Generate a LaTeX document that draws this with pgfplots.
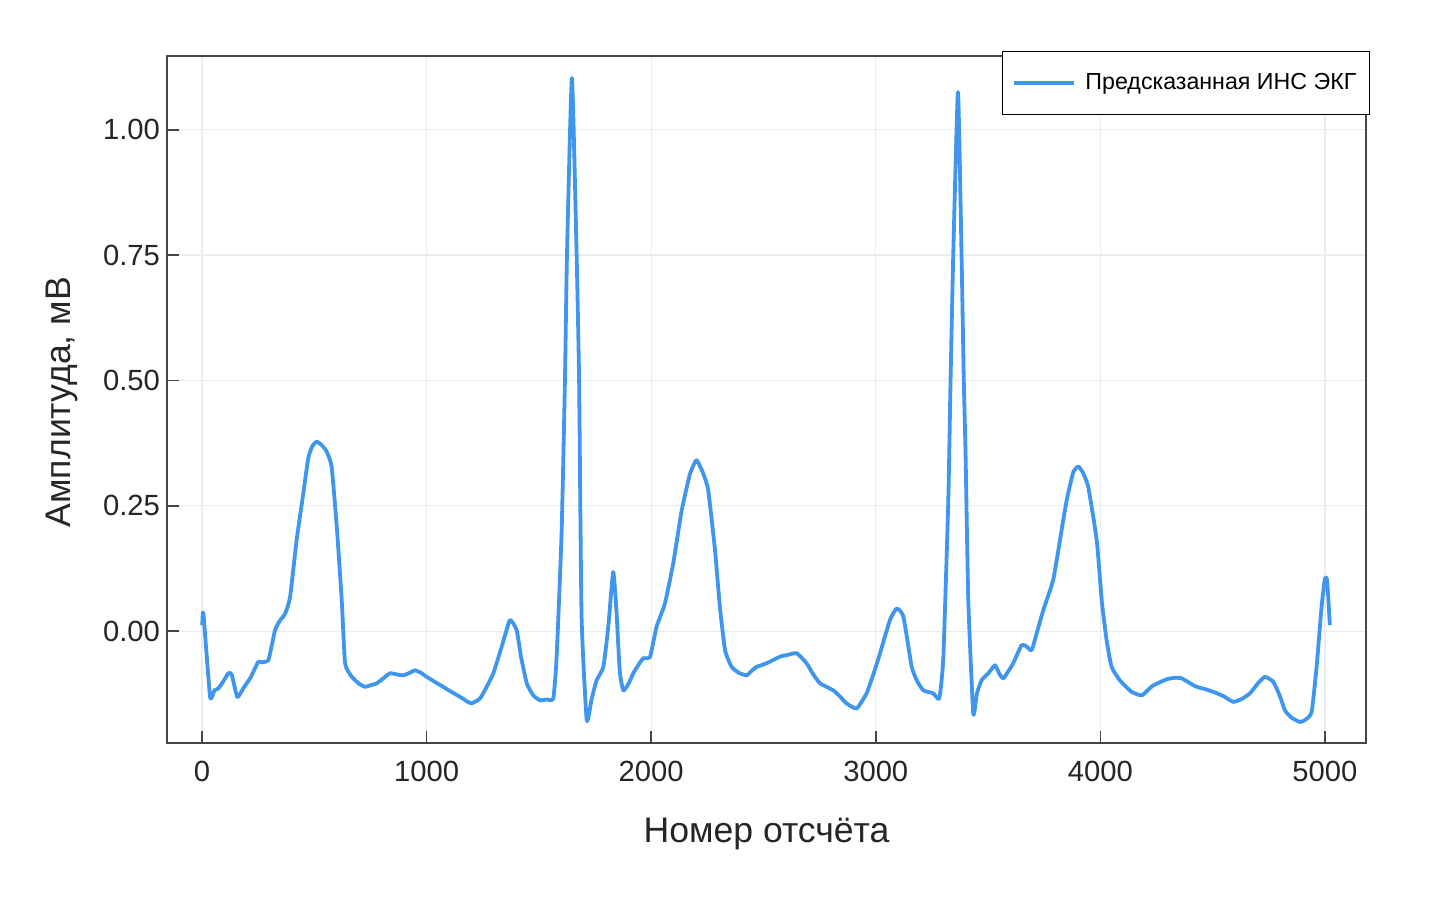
\documentclass[border=0pt]{standalone}
\usepackage{pgfplots}
\pgfplotsset{compat=1.18}
\usepackage{fontspec}
\setmainfont{Liberation Sans}
\definecolor{ecg}{RGB}{62,150,238}
\definecolor{gridc}{RGB}{236,236,236}
\definecolor{framec}{RGB}{70,70,70}
\begin{document}
\begin{tikzpicture}
\useasboundingbox (0,0) rectangle (721pt,451pt);
\begin{axis}[
  at={(83.5pt,79.5pt)}, anchor=south west,
  scale only axis, width=599.5pt, height=343.5pt,
  xmin=-156, xmax=5183, ymin=-0.223, ymax=1.147,
  xtick={0,1000,2000,3000,4000,5000},
  ytick={0,0.25,0.5,0.75,1.0},
  yticklabel style={/pgf/number format/.cd,fixed,fixed zerofill,precision=2},
  /pgf/number format/assume math mode=true,
  scaled x ticks=false,
  xticklabel style={/pgf/number format/1000 sep={}},
  tick label style={font=\fontsize{14.6}{17}\selectfont, text=black!85},
  xticklabel shift=5.5pt,
  yticklabel shift=0pt,
  tick align=inside, major tick length=6pt,
  tick style={framec, line width=0.8pt},
  xtick pos=bottom, ytick pos=left,
  grid=major, major grid style={gridc, line width=0.6pt},
  axis line style={framec, line width=1.2pt},
  xlabel={Номер отсчёта}, ylabel={Амплитуда, мВ},
  label style={font=\fontsize{17.8}{20}\selectfont, text=black!85},
  xlabel style={at={(axis description cs:0.5,-0.132)}, anchor=center},
  ylabel style={at={(axis description cs:-0.0876,0.496)}, anchor=center, rotate=0},
  legend style={at={(axis description cs:1.0033,1.0073)}, anchor=north east,
    draw=black, line width=0.6pt, font=\fontsize{11.6}{13}\selectfont,
    inner xsep=4.5pt, inner ysep=9pt, legend cell align=left},
  legend image code/.code={\draw[#1, line width=1.9pt] (0pt,0pt) -- (30pt,0pt); \path (33pt,0pt);},
]
\addplot[ecg, line width=1.9pt, line join=round, smooth, tension=0.3] coordinates {
(1,0.012) (6,0.035) (36,-0.131) (55,-0.118) (73,-0.114) (95,-0.100) (117,-0.084) (132,-0.086)
(157,-0.131) (185,-0.113) (214,-0.094) (235,-0.075) (251,-0.061) (270,-0.062) (295,-0.058)
(310,-0.030) (325,0.002) (345,0.020) (370,0.035) (392,0.068) (421,0.181) (451,0.275)
(473,0.345) (490,0.368) (511,0.378) (535,0.370) (555,0.358) (577,0.328) (600,0.208)
(622,0.062) (637,-0.064) (667,-0.091) (700,-0.105) (726,-0.111) (750,-0.108) (778,-0.104)
(810,-0.093) (837,-0.084) (865,-0.086) (896,-0.088) (925,-0.083) (948,-0.078) (975,-0.083)
(1000,-0.091) (1040,-0.102) (1074,-0.111) (1110,-0.121) (1149,-0.131) (1180,-0.140)
(1201,-0.144) (1238,-0.134) (1265,-0.113) (1297,-0.084) (1335,-0.030) (1371,0.022)
(1401,0.002) (1420,-0.050) (1446,-0.104) (1475,-0.128) (1505,-0.138) (1535,-0.136)
(1564,-0.134) (1579,-0.051) (1601,0.195) (1616,0.50) (1625,0.75) (1647,1.103) (1668,0.75)
(1679,0.50) (1690,0.029) (1713,-0.177) (1735,-0.135) (1757,-0.098) (1787,-0.071)
(1809,0.009) (1831,0.118) (1846,0.035) (1860,-0.080) (1876,-0.118) (1900,-0.104)
(1920,-0.084) (1945,-0.066) (1965,-0.054) (1995,-0.051) (2024,0.009) (2061,0.055)
(2098,0.135) (2136,0.241) (2173,0.314) (2202,0.341) (2232,0.314) (2254,0.281) (2284,0.162)
(2306,0.048) (2329,-0.038) (2358,-0.071) (2390,-0.083) (2425,-0.088) (2450,-0.078)
(2470,-0.071) (2514,-0.064) (2573,-0.051) (2610,-0.047) (2648,-0.044) (2692,-0.064)
(2720,-0.085) (2752,-0.104) (2811,-0.118) (2840,-0.130) (2870,-0.144) (2915,-0.154)
(2959,-0.124) (2990,-0.085) (3019,-0.044) (3063,0.022) (3093,0.045) (3123,0.029)
(3160,-0.071) (3185,-0.100) (3212,-0.118) (3256,-0.124) (3283,-0.134) (3301,-0.051)
(3323,0.261) (3333,0.50) (3345,0.75) (3366,1.075) (3382,0.75) (3392,0.50) (3400,0.35)
(3412,0.062) (3434,-0.164) (3450,-0.125) (3471,-0.098) (3501,-0.084) (3531,-0.068)
(3550,-0.085) (3568,-0.094) (3590,-0.080) (3612,-0.064) (3649,-0.028) (3670,-0.030)
(3694,-0.038) (3716,-0.005) (3746,0.042) (3790,0.102) (3820,0.181) (3850,0.261)
(3880,0.318) (3902,0.328) (3920,0.318) (3946,0.288) (3984,0.181) (4006,0.062)
(4028,-0.018) (4050,-0.071) (4087,-0.098) (4139,-0.121) (4184,-0.128) (4210,-0.118)
(4236,-0.108) (4295,-0.096) (4330,-0.093) (4362,-0.094) (4400,-0.104) (4429,-0.111)
(4470,-0.116) (4503,-0.121) (4550,-0.130) (4592,-0.141) (4630,-0.135) (4666,-0.124)
(4700,-0.105) (4733,-0.091) (4770,-0.101) (4800,-0.130) (4822,-0.158) (4850,-0.172)
(4889,-0.181) (4915,-0.176) (4941,-0.161) (4963,-0.071) (4985,0.048) (5000,0.105)
(5010,0.100) (5022,0.012)
};
\addlegendentry{Предсказанная ИНС ЭКГ}
\end{axis}
\end{tikzpicture}
\end{document}
